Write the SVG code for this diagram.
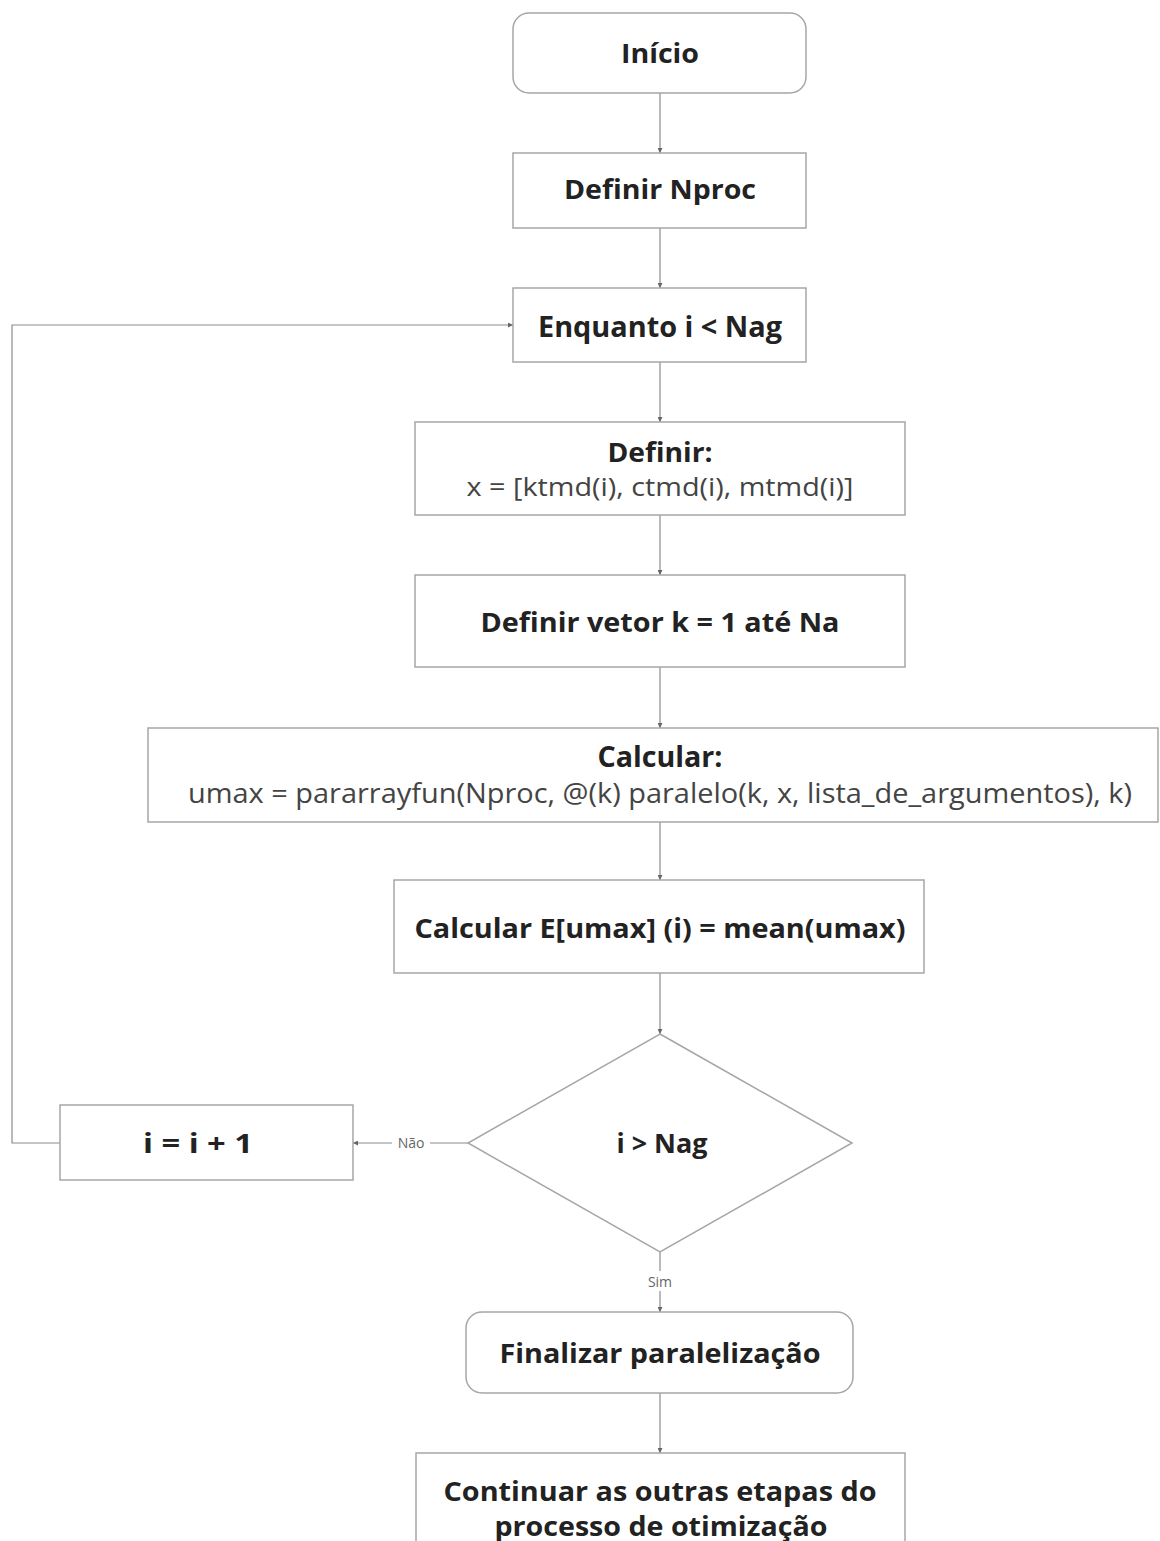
<svg xmlns="http://www.w3.org/2000/svg" width="1160" height="1541" viewBox="0 0 1160 1541">
<style>
.box{fill:#ffffff;stroke:#a6a6a6;stroke-width:1.5}
.t{font-family:"Open Sans","Noto Sans","DejaVu Sans",sans-serif;font-size:26px;fill:#222222;text-anchor:middle}
.b{font-weight:700}
.r{font-weight:400;fill:#444444}
.big{font-size:28px}
.lbl{font-family:"Open Sans","Noto Sans","DejaVu Sans",sans-serif;font-size:14px;fill:#666666;text-anchor:middle}
.c{fill:none;stroke:#8c8c8c;stroke-width:1.2}
</style>
<defs>
<marker id="ah" viewBox="0 0 6 6" refX="6" refY="3" markerWidth="5" markerHeight="5" orient="auto" markerUnits="userSpaceOnUse">
<path d="M0,0 L6,3 L0,6 Z" fill="#666666"/>
</marker>
</defs>
<rect width="1160" height="1541" fill="#ffffff"/>
<g id="connectors">
<line class="c" x1="660" y1="93" x2="660" y2="153" marker-end="url(#ah)"/>
<line class="c" x1="660" y1="228" x2="660" y2="288" marker-end="url(#ah)"/>
<line class="c" x1="660" y1="362" x2="660" y2="422" marker-end="url(#ah)"/>
<line class="c" x1="660" y1="515" x2="660" y2="575" marker-end="url(#ah)"/>
<line class="c" x1="660" y1="667" x2="660" y2="728" marker-end="url(#ah)"/>
<line class="c" x1="660" y1="822" x2="660" y2="880" marker-end="url(#ah)"/>
<line class="c" x1="660" y1="973" x2="660" y2="1034" marker-end="url(#ah)"/>
<line class="c" x1="468" y1="1143" x2="430" y2="1143"/>
<line class="c" x1="392" y1="1143" x2="353" y2="1143" marker-end="url(#ah)"/>
<text class="lbl" x="411" y="1148">Não</text>
<polyline class="c" points="60,1143 12,1143 12,325 513,325" marker-end="url(#ah)"/>
<line class="c" x1="660" y1="1252" x2="660" y2="1271"/>
<line class="c" x1="660" y1="1291" x2="660" y2="1312" marker-end="url(#ah)"/>
<text class="lbl" x="660" y="1287">Sim</text>
<line class="c" x1="660" y1="1393" x2="660" y2="1453" marker-end="url(#ah)"/>
</g>
<g id="inicio">
<rect class="box" x="513" y="13" width="293" height="80" rx="16"/>
<text class="t b" x="660" y="63" textLength="78" lengthAdjust="spacingAndGlyphs">Início</text>
</g>
<g id="definir-nproc">
<rect class="box" x="513" y="153" width="293" height="75"/>
<text class="t b" x="660" y="199" textLength="192" lengthAdjust="spacingAndGlyphs">Definir Nproc</text>
</g>
<g id="enquanto">
<rect class="box" x="513" y="288" width="293" height="74"/>
<text class="t b big" x="660" y="337" textLength="244" lengthAdjust="spacingAndGlyphs">Enquanto i &lt; Nag</text>
</g>
<g id="definir-x">
<rect class="box" x="415" y="422" width="490" height="93"/>
<text class="t b" x="660" y="462" textLength="105" lengthAdjust="spacingAndGlyphs">Definir:</text>
<text class="t r" x="660" y="496" textLength="387" lengthAdjust="spacingAndGlyphs">x = [ktmd(i), ctmd(i), mtmd(i)]</text>
</g>
<g id="definir-vetor">
<rect class="box" x="415" y="575" width="490" height="92"/>
<text class="t b" x="660" y="632" textLength="359" lengthAdjust="spacingAndGlyphs">Definir vetor k = 1 até Na</text>
</g>
<g id="calcular">
<rect class="box" x="148" y="728" width="1010" height="94"/>
<text class="t b big" x="660" y="767" textLength="125" lengthAdjust="spacingAndGlyphs">Calcular:</text>
<text class="t r big" x="660" y="803" textLength="944" lengthAdjust="spacingAndGlyphs">umax = pararrayfun(Nproc, @(k) paralelo(k, x, lista_de_argumentos), k)</text>
</g>
<g id="calcular-e">
<rect class="box" x="394" y="880" width="530" height="93"/>
<text class="t b" x="660" y="938" textLength="491" lengthAdjust="spacingAndGlyphs">Calcular E[umax] (i) = mean(umax)</text>
</g>
<g id="decisao">
<polygon class="box" points="660,1034 852,1143 660,1252 468,1143"/>
<text class="t b" x="662" y="1153" textLength="91" lengthAdjust="spacingAndGlyphs">i &gt; Nag</text>
</g>
<g id="incremento">
<rect class="box" x="60" y="1105" width="293" height="75"/>
<text class="t b" x="198" y="1153" textLength="110" lengthAdjust="spacingAndGlyphs">i = i + 1</text>
</g>
<g id="finalizar">
<rect class="box" x="466" y="1312" width="387" height="81" rx="16"/>
<text class="t b" x="660" y="1363" textLength="321" lengthAdjust="spacingAndGlyphs">Finalizar paralelização</text>
</g>
<g id="continuar">
<rect class="box" x="416" y="1453" width="489" height="110"/>
<text class="t b" x="660" y="1501" textLength="433" lengthAdjust="spacingAndGlyphs">Continuar as outras etapas do</text>
<text class="t b" x="661" y="1536" textLength="333" lengthAdjust="spacingAndGlyphs">processo de otimização</text>
</g>
</svg>
